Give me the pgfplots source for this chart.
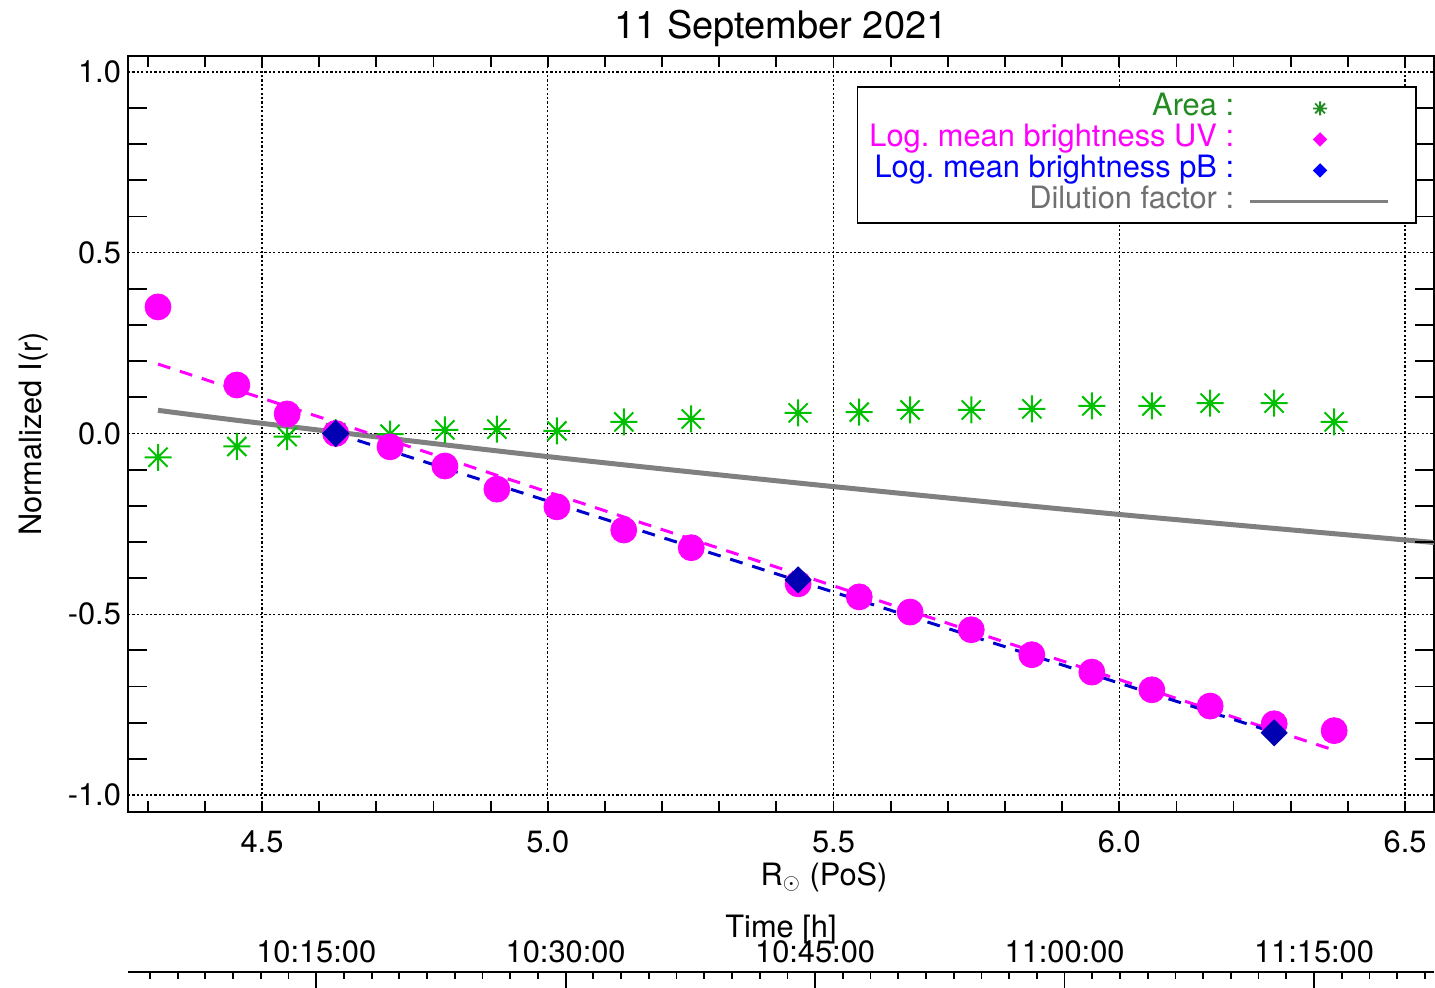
\documentclass[border=0pt]{standalone}
\usepackage{fontspec}
\setmainfont{TeX Gyre Heros}
\usepackage{pgfplots}
\pgfplotsset{compat=1.18}

\definecolor{magn}{RGB}{255,0,255}
\definecolor{ptgreen}{RGB}{0,192,0}
\definecolor{txtgreen}{RGB}{34,139,34}
\definecolor{dkblue}{RGB}{0,0,178}
\definecolor{fitblue}{RGB}{0,0,205}
\definecolor{dilgray}{RGB}{128,128,128}
\definecolor{txtgray}{RGB}{112,112,112}

% 8-armed asterisk as drawn by the original plot
\pgfdeclareplotmark{ast8}{%
  \pgfpathmoveto{\pgfqpoint{-\pgfplotmarksize}{0pt}}\pgfpathlineto{\pgfqpoint{\pgfplotmarksize}{0pt}}%
  \pgfpathmoveto{\pgfqpoint{0pt}{-\pgfplotmarksize}}\pgfpathlineto{\pgfqpoint{0pt}{\pgfplotmarksize}}%
  \pgfpathmoveto{\pgfqpoint{-0.7071\pgfplotmarksize}{-0.7071\pgfplotmarksize}}\pgfpathlineto{\pgfqpoint{0.7071\pgfplotmarksize}{0.7071\pgfplotmarksize}}%
  \pgfpathmoveto{\pgfqpoint{-0.7071\pgfplotmarksize}{0.7071\pgfplotmarksize}}\pgfpathlineto{\pgfqpoint{0.7071\pgfplotmarksize}{-0.7071\pgfplotmarksize}}%
  \pgfusepathqstroke}

\pgfplotstableread{
x      uv      area
4.318  0.350  -0.066
4.456  0.134  -0.036
4.544  0.054  -0.009
4.629  0.000   0.002
4.724 -0.037  -0.002
4.820 -0.090   0.010
4.911 -0.154   0.012
5.016 -0.203   0.007
5.133 -0.267   0.032
5.251 -0.316   0.040
5.438 -0.416   0.057
5.545 -0.452   0.059
5.634 -0.494   0.065
5.741 -0.543   0.065
5.847 -0.612   0.068
5.952 -0.660   0.076
6.057 -0.709   0.076
6.159 -0.754   0.084
6.271 -0.803   0.084
6.376 -0.822   0.032
}\brightdata

\begin{document}
\frenchspacing
\begin{tikzpicture}[font=\fontsize{15.4}{18}\selectfont]
\begin{axis}[
  at={(0pt,0pt)}, anchor=south west,
  scale only axis, width=653pt, height=378pt,
  xmin=4.2655, xmax=6.5507, ymin=-1.047, ymax=1.044,
  axis line style={line width=1pt},
  xtick={4.5,5.0,5.5,6.0,6.5}, xticklabels={4.5,5.0,5.5,6.0,6.5},
  minor xtick={4.3,4.4,4.6,4.7,4.8,4.9,5.1,5.2,5.3,5.4,5.6,5.7,5.8,5.9,6.1,6.2,6.3,6.4},
  ytick={-1,-0.5,0,0.5,1}, yticklabels={-1.0,-0.5,0.0,0.5,1.0},
  ytick style={draw=none},
  grid=major,
  major grid style={black, line width=0.7pt, dash pattern=on 1.1pt off 1.1pt},
  tick align=inside, major tick length=5.5pt, minor tick length=5.5pt,
  tick style={black, line width=0.9pt},
  xticklabel style={anchor=base, yshift=-20pt},
  xlabel={R$_{\odot}$ (PoS)},
  xlabel style={at={(0.533,0)}, anchor=base, yshift=-36.5pt},
  ylabel={Normalized I(r)},
  ylabel style={at={(-0.0727,0.5)}, anchor=center, rotate=0},
  title={11 September 2021},
  title style={at={(0.5,1)}, anchor=base, yshift=3pt, font=\fontsize{19}{22}\selectfont},
  legend plot pos=right,
  legend cell align=right,
  legend style={at={(1,1)}, anchor=north east, xshift=-8.5pt, yshift=-15pt,
    draw=black, line width=0.9pt, inner xsep=4pt, inner ysep=3pt,
    nodes={inner ysep=0pt, text height=11.5pt, text depth=4pt}},
]
% dilution factor
\addplot[dilgray, line width=2.5pt, smooth, forget plot] coordinates {
  (4.318,0.064) (4.5,0.028) (5.0,-0.064) (5.5,-0.147) (6.0,-0.224) (6.554,-0.302)
};
% area
\addplot[only marks, mark=ast8, mark size=6.75pt, ptgreen, line width=1pt, forget plot]
  table[x=x, y=area] {\brightdata};
% log mean brightness UV
\addplot[only marks, mark=*, mark size=6.5pt, magn, forget plot]
  table[x=x, y=uv] {\brightdata};
% fits
\addplot[magn, line width=1.5pt, dash pattern=on 6.5pt off 5pt, forget plot] coordinates {
  (4.318,0.192) (6.376,-0.876)
};
\addplot[fitblue, line width=1.5pt, dash pattern=on 6.5pt off 5pt, forget plot] coordinates {
  (4.629,0.0) (6.271,-0.827)
};
% log mean brightness pB
\addplot[only marks, mark=square*, mark size=4.6pt, mark options={rotate=45}, dkblue, forget plot] coordinates {
  (4.629,0.0) (5.438,-0.405) (6.271,-0.828)
};

\addlegendimage{legend image code/.code={
  \path[draw=none] (0pt,0pt) -- (85pt,0pt);
  \draw[txtgreen, line width=0.9pt] plot[mark=ast8, mark size=3.5pt] coordinates {(41pt,0pt)};}}
\addlegendentry{\textcolor{txtgreen}{Area :}}
\addlegendimage{legend image code/.code={
  \path[draw=none] (0pt,0pt) -- (85pt,0pt);
  \fill[magn] plot[mark=square*, mark size=2.1pt, mark options={rotate=45}] coordinates {(41pt,0pt)};}}
\addlegendentry{\textcolor{magn}{Log. mean brightness UV :}}
\addlegendimage{legend image code/.code={
  \path[draw=none] (0pt,0pt) -- (85pt,0pt);
  \fill[blue] plot[mark=square*, mark size=2.1pt, mark options={rotate=45}] coordinates {(41pt,0pt)};}}
\addlegendentry{\textcolor{blue}{Log. mean brightness pB :}}
\addlegendimage{legend image code/.code={
  \path[draw=none] (0pt,0pt) -- (85pt,0pt);
  \draw[dilgray, line width=1.2pt] (6pt,0pt) -- (75pt,0pt);}}
\addlegendentry{\textcolor{txtgray}{Dilution factor :}}
\end{axis}

% minor y ticks (longer than the x ticks)
\begin{axis}[
  at={(0pt,0pt)}, anchor=south west,
  scale only axis, width=653pt, height=378pt,
  xmin=4.2655, xmax=6.5507, ymin=-1.047, ymax=1.044,
  axis line style={draw=none},
  xtick=\empty,
  ytick={-0.9,-0.8,-0.7,-0.6,-0.4,-0.3,-0.2,-0.1,0.1,0.2,0.3,0.4,0.6,0.7,0.8,0.9},
  yticklabels={,,,,,,,,,,,,,,,,},
  tick align=inside, major tick length=9.5pt,
  tick style={black, line width=0.9pt},
]
\end{axis}

% time axis
\begin{axis}[
  at={(0pt,-80pt)}, anchor=north west,
  scale only axis, width=653pt, height=10pt,
  xmin=3.683, xmax=82.215, ymin=0, ymax=1,
  axis x line*=top, axis y line=none,
  axis line style={line width=1pt},
  xtick={15,30,45,60,75},
  xticklabels={10:15:00,10:30:00,10:45:00,11:00:00,11:15:00},
  minor xtick={5,6.6667,8.3333,10,11.6667,13.3333,16.6667,18.3333,20,21.6667,23.3333,25,26.6667,28.3333,31.6667,33.3333,35,36.6667,38.3333,40,41.6667,43.3333,46.6667,48.3333,50,51.6667,53.3333,55,56.6667,58.3333,61.6667,63.3333,65,66.6667,68.3333,70,71.6667,73.3333,76.6667,78.3333,80,81.6667},
  tick align=inside, major tick length=8pt, minor tick length=3.5pt,
  tick style={black, line width=0.9pt},
  xticklabel style={anchor=base, yshift=5pt},
  xlabel={Time [h]},
  xlabel style={at={(0.5,1)}, anchor=base, yshift=17.5pt},
]
\end{axis}

\pgfresetboundingbox
\path (-64pt,-87.5pt) rectangle (653.5pt,406pt);
\end{tikzpicture}
\end{document}
